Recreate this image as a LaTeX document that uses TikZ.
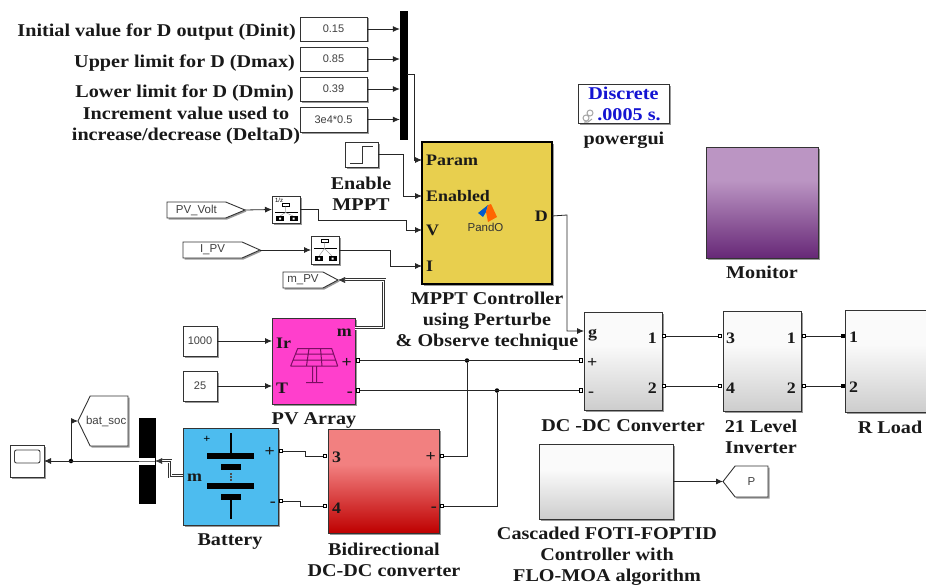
\documentclass[tikz,border=0pt]{standalone}
\usepackage{fontspec}
\setmainfont{Liberation Serif}[FakeStretch=1.12]
\setsansfont{Liberation Sans}
\usepackage{tikz}
\usetikzlibrary{
	arrows.meta,
	shadows,
	shapes.symbols
}

\definecolor{mpptyellow}{HTML}{E8CF4E}
\definecolor{pvpink}{HTML}{FF3FCC}
\definecolor{batblue}{HTML}{4DBCEF}
\definecolor{pvicon}{HTML}{7A0F62}
\definecolor{gblue}{HTML}{1414D2}
\definecolor{graylow}{HTML}{CDCDCD}
\definecolor{grayhigh}{HTML}{FAFAFA}
\definecolor{redlow}{HTML}{BE0000}
\definecolor{redhigh}{HTML}{F28080}
\definecolor{purplow}{HTML}{672877}
\definecolor{purphigh}{HTML}{BB95C3}

\pgfdeclareverticalshading{grayblock}{100bp}{color(0bp)=(graylow); color(25bp)=(graylow); color(58bp)=(grayhigh); color(100bp)=(grayhigh)}
\pgfdeclareverticalshading{redblock}{100bp}{color(0bp)=(redlow); color(25bp)=(redlow); color(58bp)=(redhigh); color(100bp)=(redhigh)}
\pgfdeclareverticalshading{purpblock}{100bp}{color(0bp)=(purplow); color(25bp)=(purplow); color(60bp)=(purphigh); color(100bp)=(purphigh)}

\tikzset{
	block/.style={draw=black!80,line width=.9pt,inner sep=0pt,outer sep=0pt,fill=white,
		drop shadow={shadow xshift=1.5pt,shadow yshift=-1.5pt,fill=black,opacity=.4}},
	sized/.style 2 args={minimum width=#1,minimum height=#2},
	constant/.style={block,font=\sffamily\fontsize{11}{12}\selectfont,text=black!75},
	goto/.style={block,shape=signal,signal to=east,signal from=nowhere,anchor=west,font=\sffamily\fontsize{11.5}{13}\selectfont,text=black!75},
	gotoleft/.style={block,shape=signal,signal to=west,signal from=nowhere,anchor=east,font=\sffamily\fontsize{11.5}{13}\selectfont,text=black!75},
	port/.style={draw=black,line width=.9pt,fill=white,inner sep=0pt,minimum size=3.5pt,outer sep=0pt},
	solidport/.style={port,fill=black},
	dot/.style={circle,fill=black,inner sep=0pt,minimum size=4.5pt},
	title/.style={font=\bfseries\fontsize{18}{21}\selectfont,text=black!90,align=center,inner sep=0pt},
	inlabel/.style={font=\bfseries\fontsize{16}{18}\selectfont,text=black!90,inner sep=0pt,yshift=-1pt},
	signalline/.style={draw=black!85,line width=.8pt},
	feed/.style={signalline,-{Latex[length=7pt,width=6pt]}},
	busline/.style={draw=black!80,line width=.7pt,-{Latex[length=7pt,width=6pt]},
		preaction={draw=black!80,line width=4.4pt},
		preaction={draw=white,line width=3pt}}
}

\newcommand{\rateicon}[3]{
	\draw[black,line width=.7pt] (#1+10,#2+#3) rectangle ++(7,3.7);
	\draw[black,line width=.7pt] (#1+3,#2+#3+9.5) -- ++(23,0);
	\draw[black!40,line width=.5pt] (#1+13.5,#2+#3+3.7) -- ++(0,5.8) (#1+13.5,#2+#3+9.5) -- (#1+8,#2+20) (#1+13.5,#2+#3+9.5) -- (#1+21,#2+20);
	\fill[black] (#1+4,#2+20) rectangle ++(8,5);
	\fill[black] (#1+17.5,#2+20) rectangle ++(8,5);
	\fill[white] (#1+7,#2+21.5) rectangle ++(2,2) (#1+20.5,#2+21.5) rectangle ++(2,2);
}

\begin{document}
\begin{tikzpicture}[x=1pt,y=-1pt]
		\useasboundingbox (0,0) rectangle (926,586);
		\draw
			% constants and the parameter bus
			node[constant,sized={67pt}{24pt}] (dinit)  at (333.5,29)  {0.15}
			node[constant,sized={67pt}{24pt}] (dmax)   at (333.5,59)  {0.85}
			node[constant,sized={67pt}{24pt}] (dmin)   at (333.5,89)  {0.39}
			node[constant,sized={67pt}{25pt}] (deltad) at (333.5,119.5) {3e4*0.5}
			node[draw=black,fill=black,inner sep=0pt,sized={7pt}{128pt}] (parambus) at (403.5,75) {}
			node[title,anchor=east] (dinitl)  at (296,32.5) {Initial value for D output (Dinit)}
			node[title,anchor=east] (dmaxl)   at (295,63) {Upper limit for D (Dmax)}
			node[title,anchor=east] (dminl)   at (294,93.5) {Lower limit for D (Dmin)}
			node[title] (deltadl) at (186,125.5) {Increment value used to\\increase/decrease (DeltaD)}
			node[block,sized={33pt}{25pt}] (enable) at (361.5,154.5) {}
			node[title] (enablel) at (361,194) {Enable\\MPPT}

			% inputs of the controller
			node[goto,sized={78pt}{16pt},signal pointer angle=45] (pvvolt) at (167,210) {PV\_Volt\hspace{8pt}}
			node[block,sized={28pt}{27pt}] (ratev) at (286,209.5) {}
			node[goto,sized={77pt}{16pt},signal pointer angle=48] (ipv) at (183,250) {I\_PV\hspace{14pt}}
			node[block,sized={28pt}{28pt}] (ratei) at (325,250) {}
			node[goto,sized={55pt}{16pt},signal pointer angle=56] (mpv) at (283,280) {m\_PV\hspace{4pt}}

			% controller
			node[block,fill=mpptyellow,draw=black,line width=1.4pt,sized={130pt}{142pt}] (mppt) at (487,213) {}
			node[title] (mpptl) at (487,321.5) {MPPT Controller\\using Perturbe\\\& Observe technique}
			node[inlabel,anchor=west] (param) at (426,159) {Param}
			node[inlabel,anchor=west] (enabled) at (426,195) {Enabled}
			node[inlabel,anchor=west] (vin) at (426,229) {V}
			node[inlabel,anchor=west] (iin) at (426,265) {I}
			node[inlabel,anchor=east] (dout) at (548,215) {D}
			node[font=\sffamily\fontsize{11.5}{12}\selectfont,text=black!80,inner sep=0pt] (pando) at (485.5,227) {PandO}

			% PV array
			node[constant,sized={34pt}{30pt}] (irr) at (200,341) {1000}
			node[constant,sized={34pt}{30pt}] (temp) at (200,386) {25}
			node[block,fill=pvpink,sized={83pt}{86pt}] (pv) at (313.5,361) {}
			node[title] (pvl) at (314,420.5) {PV Array}
			node[inlabel,anchor=west] (irl) at (276,342) {Ir}
			node[inlabel,anchor=west] (tl) at (276,387) {T}
			node[inlabel,anchor=east] (pvml) at (352,332) {m}
			node[inlabel,anchor=east] (pvpl) at (352,362) {+}
			node[inlabel,anchor=east] (pvnl) at (353,393) {-}
			node[port] (pvp) at (358,360.5) {}
			node[port] (pvn) at (358,390.5) {}
			coordinate (pvm) at (355,328)

			% battery side
			node[block,fill=batblue,sized={95pt}{97pt}] (bat) at (230.5,476.5) {}
			node[title] (batl) at (230,541.5) {Battery}
			node[inlabel,anchor=east] (batpl) at (275,451) {+}
			node[inlabel,anchor=east] (batnl) at (276,503) {-}
			node[inlabel,anchor=west] (batml) at (187,477) {m}
			node[port] (batp) at (281,451) {}
			node[port] (batn) at (281,501) {}
			coordinate (batm) at (183,476)
			node[draw=black,fill=black,inner sep=0pt,sized={16pt}{85pt}] (batbus) at (147,461) {}
			node[gotoleft,sized={50pt}{50pt},signal pointer angle=128] (batsoc) at (128,421) {\makebox[34pt][l]{\hspace*{-6pt}bat\_soc}}
			node[block,sized={34pt}{32pt}] (batscope) at (27,461) {}
			node[dot] (soctap) at (71,461) {}

			node[block,shading=redblock,sized={111pt}{104pt}] (bidir) at (383.5,481) {}
			node[title] (bidirl) at (384,560) {Bidirectional\\DC-DC converter}
			node[inlabel,anchor=west] (b3) at (332,456) {3}
			node[inlabel,anchor=west] (b4) at (332,507) {4}
			node[inlabel,anchor=east] (bpl) at (436,456) {+}
			node[inlabel,anchor=east] (bnl) at (437,508) {-}
			node[port] (bin3) at (325,456) {}
			node[port] (bin4) at (325,506) {}
			node[port] (bp) at (442,456) {}
			node[port] (bn) at (442,506) {}

			% converter, inverter and load
			node[block,shading=grayblock,sized={78pt}{98pt}] (conv) at (623,361) {}
			node[title] (convl) at (623,425.5) {DC -DC Converter}
			node[inlabel,anchor=west] (gl) at (588,334) {g}
			node[inlabel,anchor=west] (cpl) at (587,362) {+}
			node[inlabel,anchor=west] (cnl) at (588,393) {-}
			node[inlabel,anchor=east] (c1l) at (657,337) {1}
			node[inlabel,anchor=east] (c2l) at (657,387) {2}
			node[port] (cp) at (581,360.5) {}
			node[port] (cn) at (581,390.5) {}
			node[port] (c1) at (664,336) {}
			node[port] (c2) at (664,386) {}
			coordinate (cg) at (584,331)

			node[block,shading=grayblock,sized={78pt}{100pt}] (inv) at (762,361) {}
			node[title] (invl) at (761,437) {21 Level\\Inverter}
			node[inlabel,anchor=west] (i3l) at (726,337) {3}
			node[inlabel,anchor=west] (i4l) at (726,387) {4}
			node[inlabel,anchor=east] (i1l) at (796,337) {1}
			node[inlabel,anchor=east] (i2l) at (796,387) {2}
			node[port] (i3) at (720,336) {}
			node[port] (i4) at (720,386) {}
			node[port] (i1) at (804,336) {}
			node[port] (i2) at (804,386) {}

			node[block,shading=grayblock,sized={90pt}{102pt}] (load) at (890,361) {}
			node[title] (loadl) at (890,427.5) {R Load}
			node[inlabel,anchor=west] (l1l) at (849,336) {1}
			node[inlabel,anchor=west] (l2l) at (849,386) {2}
			node[solidport] (l1) at (843,336) {}
			node[solidport] (l2) at (843,386) {}

			node[dot] (tapp) at (467,360.5) {}
			node[dot] (tapn) at (497,390.5) {}

			% controller of the inverter
			node[block,shading=grayblock,sized={134pt}{75pt}] (foti) at (606,481.5) {}
			node[title] (fotil) at (607,556.5) {Cascaded FOTI-FOPTID\\Controller with\\FLO-MOA algorithm}
			node[gotoleft,sized={45pt}{31pt},signal pointer angle=104] (pgoto) at (768,481.5) {P}

			% powergui and monitor
			node[block,sized={91pt}{39pt},font=\bfseries\fontsize{18}{21}\selectfont,text=gblue,align=center] (gui) at (623.5,103.5) {Discrete\\\hspace{11pt}.0005 s.}
			node[title] (guil) at (624,140.5) {powergui}
			node[block,shading=purpblock,sized={112pt}{111pt}] (monitor) at (762,202.5) {}
			node[title] (monitorl) at (762,272.5) {Monitor}
		;

		% connectors
		\draw[feed] (dinit.east) -- (dinit.east -| parambus.west);
		\draw[feed] (dmax.east) -- (dmax.east -| parambus.west);
		\draw[feed] (dmin.east) -- (dmin.east -| parambus.west);
		\draw[feed] (deltad.east) -- (deltad.east -| parambus.west);
		\draw[feed] (parambus.east |- 0,74) -- (414,74) |- (mppt.west |- param);
		\draw[feed] (enable.east) -- (403,154.5) |- (mppt.west |- enabled);
		\draw[feed] (pvvolt.east) -- (ratev.west);
		\draw[feed] (ratev.east) -- (318,209.5) -- (318,220) -- (406,220) |- (mppt.west |- vin);
		\draw[feed] (ipv.east) -- (ratei.west);
		\draw[feed] (ratei.east) -- (390,250) |- (mppt.west |- iin);
		\draw[feed] (mppt.east |- dout) -- (567,215) |- (cg);
		\draw[feed] (irr.east) -- (pv.west |- irr.east);
		\draw[feed] (temp.east) -- (pv.west |- temp.east);
		\draw[busline] (pvm) -- (384,328) |- (mpv.east);
		\draw[signalline] (pvp) -- (cp);
		\draw[signalline] (pvn) -- (cn);
		\draw[signalline] (tapp) |- (bp);
		\draw[signalline] (tapn) |- (bn);
		\draw[signalline] (batp) -- (305,451) |- (bin3);
		\draw[signalline] (batn) -- (300,501) |- (bin4);
		\draw[busline] (batm) -- (170,476) |- (batbus.east);
		\draw[feed] (batbus.west) -- (batscope.east);
		\draw[feed] (soctap) |- (batsoc.west);
		\draw[signalline] (c1) -- (i3);
		\draw[signalline] (c2) -- (i4);
		\draw[signalline] (i1) -- (l1);
		\draw[signalline] (i2) -- (l2);
		\draw[feed] (foti.east) -- (pgoto.west);

		% block icons
		\draw[black!80,line width=.8pt] (350,163) -- (362,163) -- (362,146.5) -- (373,146.5);
		\draw[black!75,line width=.9pt,rounded corners=2pt] (14.5,450) rectangle (40,463);
		\rateicon{272}{196}{7}
		\rateicon{311}{236}{3}
		\node[font=\sffamily\fontsize{6}{6}\selectfont,inner sep=0pt] (ratez) at (279,200.5) {1/z};
		\fill[white] (139,457.5) rectangle (155,464.5);
		\draw[black!55,line width=.9pt] (139,461) -- (155,461);

		% matlab function logo
		\fill[blue!55!cyan!80!black] (478,213) -- (488,205) -- (486,212) -- (483,217) -- cycle;
		\fill[orange!80!red] (491,204) -- (497,217) -- (488,222) -- (486,212) -- (488,205) -- cycle;

		% solar panel
		\draw[pvicon,line width=1pt,join=round]
			(297.7,348.5) -- (331.7,348.5) -- (337.7,366) -- (290.7,366) -- cycle
			(295.3,354) -- (333.8,354) (293,360) -- (336,360)
			(309,348.5) -- (306.5,366) (320.5,348.5) -- (322,366)
			(312.5,366) -- (312.5,382) (316.5,366) -- (316.5,382)
			(306,382.5) -- (323,382.5);

		% battery symbol
		\draw[black,line width=2.2pt] (230.7,433) -- (230.7,453) (230.7,494) -- (230.7,519);
		\fill[black] (207,453) rectangle (254,459);
		\fill[black] (220.7,464) rectangle (240.7,470);
		\fill[black] (207,483) rectangle (254,489);
		\fill[black] (220.7,494) rectangle (240.7,499.5);
		\draw[black!70,line width=2pt,dash pattern=on .7pt off .7pt] (230.7,473) -- (230.7,481);
		\node[font=\bfseries\fontsize{11}{11}\selectfont,text=black,inner sep=0pt] (batplus) at (207,439) {+};

		% powergui icon
		\draw[black!35,line width=1pt] (590,113) circle (3) (586,118) circle (3) (592,119) -- (588,122) -- (584,122);
	\end{tikzpicture}
\end{document}
